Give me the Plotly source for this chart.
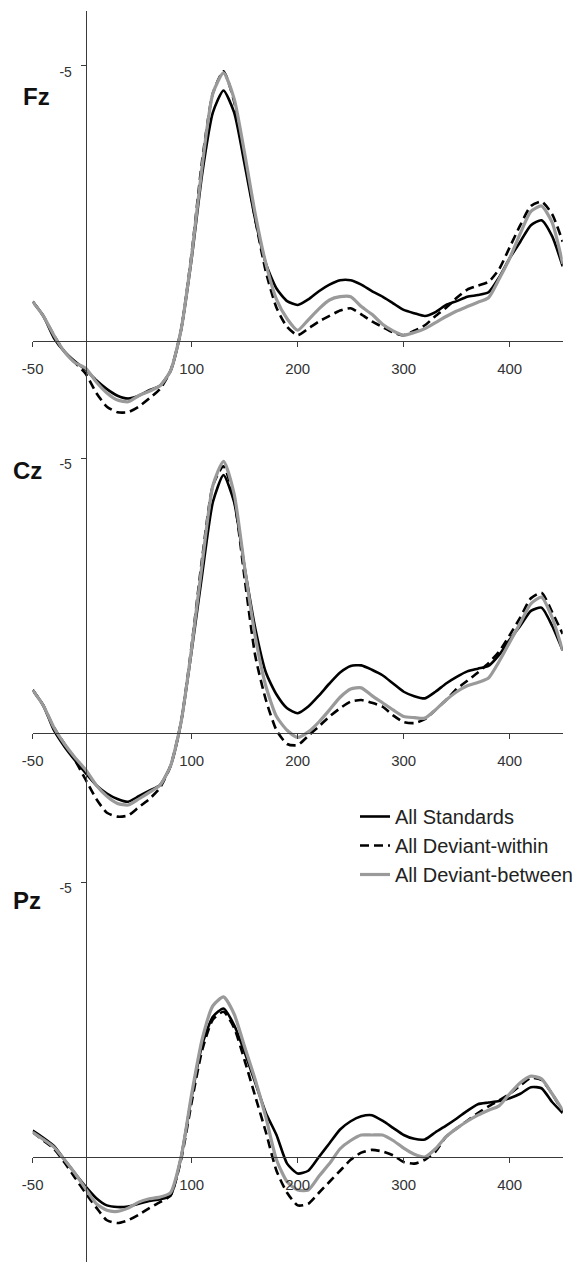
import plotly.graph_objects as go

# ---------------- data ----------------
TIME_MS = [-50, -40, -30, -20, -10, 0, 10, 20, 30, 40, 50, 60, 70, 80, 90,
           100, 110, 120, 130, 140, 150, 160, 170, 180, 190, 200, 210, 220,
           230, 240, 250, 260, 270, 280, 290, 300, 310, 320, 330, 340, 350,
           360, 370, 380, 390, 400, 410, 420, 430, 440, 450]

PANELS = ["Fz", "Cz", "Pz"]
SERIES_NAMES = ["All Standards", "All Deviant-within", "All Deviant-between"]

FZ_STANDARDS = [-0.71, -0.45, -0.05, 0.20, 0.38, 0.53, 0.72, 0.88, 1.00, 1.05, 1.00,
                0.90, 0.82, 0.55, -0.20, -1.50, -3.05, -4.15, -4.55, -4.15, -3.20,
                -2.20, -1.40, -0.95, -0.72, -0.65, -0.75, -0.90, -1.02, -1.10, -1.10,
                -1.02, -0.90, -0.80, -0.68, -0.56, -0.50, -0.45, -0.52, -0.65, -0.72,
                -0.80, -0.83, -0.88, -1.15, -1.50, -1.80, -2.10, -2.19, -1.90, -1.35]
FZ_DEV_WITHIN = [-0.71, -0.45, -0.10, 0.20, 0.40, 0.60, 0.95, 1.20, 1.30, 1.30, 1.20,
                 1.05, 0.88, 0.55, -0.20, -1.60, -3.30, -4.50, -4.90, -4.35, -3.30,
                 -2.20, -1.25, -0.60, -0.25, -0.10, -0.22, -0.35, -0.45, -0.55, -0.59,
                 -0.48, -0.35, -0.25, -0.15, -0.10, -0.18, -0.28, -0.45, -0.60, -0.78,
                 -0.93, -1.00, -1.07, -1.30, -1.70, -2.10, -2.45, -2.53, -2.30, -1.80]
FZ_DEV_BETWEEN = [-0.71, -0.45, -0.10, 0.20, 0.40, 0.50, 0.75, 0.95, 1.08, 1.11, 1.00,
                  0.92, 0.82, 0.55, -0.20, -1.55, -3.20, -4.50, -4.87, -4.40, -3.40,
                  -2.30, -1.40, -0.75, -0.40, -0.19, -0.38, -0.58, -0.74, -0.80, -0.80,
                  -0.62, -0.48, -0.30, -0.18, -0.10, -0.15, -0.22, -0.33, -0.44, -0.54,
                  -0.62, -0.70, -0.78, -1.12, -1.50, -1.95, -2.35, -2.45, -2.15, -1.40]

CZ_STANDARDS = [-0.78, -0.50, -0.05, 0.25, 0.50, 0.73, 0.95, 1.10, 1.20, 1.25, 1.15,
                1.05, 0.95, 0.60, -0.20, -1.50, -2.90, -4.20, -4.69, -4.20, -3.00,
                -1.90, -1.10, -0.70, -0.45, -0.36, -0.48, -0.68, -0.90, -1.10, -1.22,
                -1.23, -1.15, -1.05, -0.90, -0.75, -0.67, -0.63, -0.75, -0.90, -1.02,
                -1.12, -1.17, -1.22, -1.42, -1.70, -1.95, -2.22, -2.28, -1.95, -1.50]
CZ_DEV_WITHIN = [-0.78, -0.50, -0.10, 0.20, 0.50, 0.85, 1.20, 1.45, 1.52, 1.50, 1.35,
                 1.20, 1.00, 0.60, -0.20, -1.60, -3.20, -4.50, -4.85, -4.25, -2.80,
                 -1.40, -0.60, -0.05, 0.20, 0.22, 0.05, -0.12, -0.30, -0.45, -0.57,
                 -0.60, -0.55, -0.48, -0.32, -0.20, -0.18, -0.25, -0.42, -0.60, -0.80,
                 -0.95, -1.10, -1.27, -1.48, -1.78, -2.10, -2.45, -2.55, -2.20, -1.80]
CZ_DEV_BETWEEN = [-0.78, -0.50, -0.10, 0.20, 0.45, 0.67, 0.95, 1.15, 1.28, 1.31, 1.20,
                  1.08, 0.95, 0.60, -0.20, -1.55, -3.10, -4.50, -4.94, -4.35, -3.00,
                  -1.75, -0.85, -0.30, -0.05, 0.08, -0.02, -0.20, -0.42, -0.65, -0.80,
                  -0.82, -0.68, -0.55, -0.42, -0.30, -0.28, -0.27, -0.42, -0.60, -0.75,
                  -0.86, -0.92, -1.00, -1.30, -1.65, -2.00, -2.35, -2.47, -2.10, -1.50]

PZ_STANDARDS = [-0.48, -0.35, -0.20, 0.05, 0.30, 0.54, 0.75, 0.88, 0.91, 0.90, 0.85,
                0.80, 0.77, 0.70, 0.00, -1.10, -2.05, -2.55, -2.70, -2.40, -1.90,
                -1.35, -0.80, -0.40, 0.12, 0.30, 0.25, 0.00, -0.25, -0.50, -0.65,
                -0.74, -0.76, -0.66, -0.53, -0.40, -0.33, -0.32, -0.45, -0.57, -0.70,
                -0.84, -0.96, -0.99, -1.02, -1.07, -1.15, -1.27, -1.25, -1.00, -0.80]
PZ_DEV_WITHIN = [-0.45, -0.30, -0.15, 0.10, 0.38, 0.66, 0.92, 1.15, 1.20, 1.15, 1.05,
                 0.93, 0.82, 0.70, 0.05, -1.00, -1.95, -2.50, -2.64, -2.35, -1.75,
                 -1.10, -0.45, 0.25, 0.65, 0.88, 0.85, 0.65, 0.45, 0.25, 0.05,
                 -0.08, -0.13, -0.10, -0.03, 0.09, 0.12, 0.05, -0.10, -0.37, -0.52,
                 -0.66, -0.80, -0.92, -1.03, -1.15, -1.30, -1.44, -1.40, -1.15, -0.82]
PZ_DEV_BETWEEN = [-0.45, -0.32, -0.18, 0.05, 0.30, 0.58, 0.85, 0.97, 0.99, 0.93, 0.82,
                  0.76, 0.73, 0.65, 0.00, -1.15, -2.15, -2.75, -2.91, -2.60, -2.00,
                  -1.40, -0.72, 0.05, 0.45, 0.60, 0.60, 0.35, 0.12, -0.15, -0.30,
                  -0.40, -0.40, -0.40, -0.30, -0.16, -0.05, 0.00, -0.15, -0.37, -0.52,
                  -0.65, -0.76, -0.85, -0.93, -1.15, -1.35, -1.47, -1.42, -1.15, -0.85]

X_TICKS = [-50, 100, 200, 300, 400]
Y_TICKS = [-5]

PANEL_DATA = {
    "Fz": [FZ_STANDARDS, FZ_DEV_WITHIN, FZ_DEV_BETWEEN],
    "Cz": [CZ_STANDARDS, CZ_DEV_WITHIN, CZ_DEV_BETWEEN],
    "Pz": [PZ_STANDARDS, PZ_DEV_WITHIN, PZ_DEV_BETWEEN],
}

# ---------------- layout / style ----------------
W, H = 587, 1263
X_RANGE = [-50, 450]
X_PX = [32.7, 562.7]
PX_PER_UV = 55.0
PANEL_GEOM = {          # pixel row of 0 uV, y range [bottom, top] (negative up)
    "Fz": (340.7, [2.0, -6.0]),
    "Cz": (733.0, [2.0, -6.0]),
    "Pz": (1157.0, [1.9, -6.0]),
}
LABEL_POS = {"Fz": (36, 97), "Cz": (27, 470), "Pz": (27, 900)}

STYLES = [
    dict(color="#000000", width=2.6, dash="solid"),
    dict(color="#000000", width=2.6, dash="9px,5px"),
    dict(color="#9a9a9a", width=3.2, dash="solid"),
]
AXIS_COLOR = "#3a3a3a"
FONT = "Liberation Sans, Arial, sans-serif"

fig = go.Figure()
xdom = [X_PX[0] / W, X_PX[1] / W]
yaxis_xpos = xdom[0] + (0 - X_RANGE[0]) / (X_RANGE[1] - X_RANGE[0]) * (xdom[1] - xdom[0])

annotations = []
for i, panel in enumerate(PANELS):
    sfx = "" if i == 0 else str(i + 1)
    zero_px, yr = PANEL_GEOM[panel]
    top_px = zero_px + yr[1] * PX_PER_UV
    bot_px = zero_px + yr[0] * PX_PER_UV
    ydom = [1 - bot_px / H, 1 - top_px / H]
    xpos = 1 - zero_px / H

    for j, (name, vals) in enumerate(zip(SERIES_NAMES, PANEL_DATA[panel])):
        st = STYLES[j]
        fig.add_trace(go.Scatter(
            x=TIME_MS, y=vals, mode="lines", name=name,
            xaxis="x" + sfx, yaxis="y" + sfx,
            legendgroup=name, showlegend=(i == 0),
            line=dict(color=st["color"], width=st["width"], dash=st["dash"],
                      shape="spline", smoothing=0.6),
            hoverinfo="skip",
        ))

    fig.layout["xaxis" + sfx] = dict(
        domain=xdom, range=X_RANGE, anchor="free", position=xpos,
        automargin=False,
        showline=True, linecolor=AXIS_COLOR, linewidth=1,
        ticks="outside", ticklen=5, tickcolor=AXIS_COLOR, tickwidth=1,
        tickvals=X_TICKS, ticktext=[str(v) for v in X_TICKS],
        tickfont=dict(family=FONT, size=15, color="#333333"),
        ticklabelstandoff=9,
        showgrid=False, zeroline=False, fixedrange=True,
    )
    fig.layout["yaxis" + sfx] = dict(
        domain=ydom, range=yr, anchor="free", position=yaxis_xpos,
        automargin=False,
        showline=True, linecolor=AXIS_COLOR, linewidth=1,
        ticks="outside", ticklen=5, tickcolor=AXIS_COLOR, tickwidth=1,
        tickvals=Y_TICKS, ticktext=[str(v) for v in Y_TICKS],
        tickfont=dict(family=FONT, size=14, color="#333333"),
        ticklabelstandoff=6, ticklabelshift=-6,
        showgrid=False, zeroline=False, fixedrange=True,
    )
    lx, ly = LABEL_POS[panel]
    annotations.append(dict(
        text="<b>%s</b>" % panel, xref="paper", yref="paper",
        x=lx / W, y=1 - ly / H, xanchor="center", yanchor="middle",
        showarrow=False, font=dict(family=FONT, size=24, color="#111111"),
    ))

fig.update_layout(
    width=W, height=H,
    margin=dict(l=0, r=0, t=0, b=0, autoexpand=False),
    paper_bgcolor="white", plot_bgcolor="rgba(0,0,0,0)",
    showlegend=True,
    legend=dict(
        x=355 / W, y=1 - 797 / H, xanchor="left", yanchor="top",
        font=dict(family=FONT, size=20, color="#222222"),
        bgcolor="rgba(0,0,0,0)", borderwidth=0, tracegroupgap=0,
        itemwidth=30,
    ),
    annotations=annotations,
)

fig.write_html("out.html")
